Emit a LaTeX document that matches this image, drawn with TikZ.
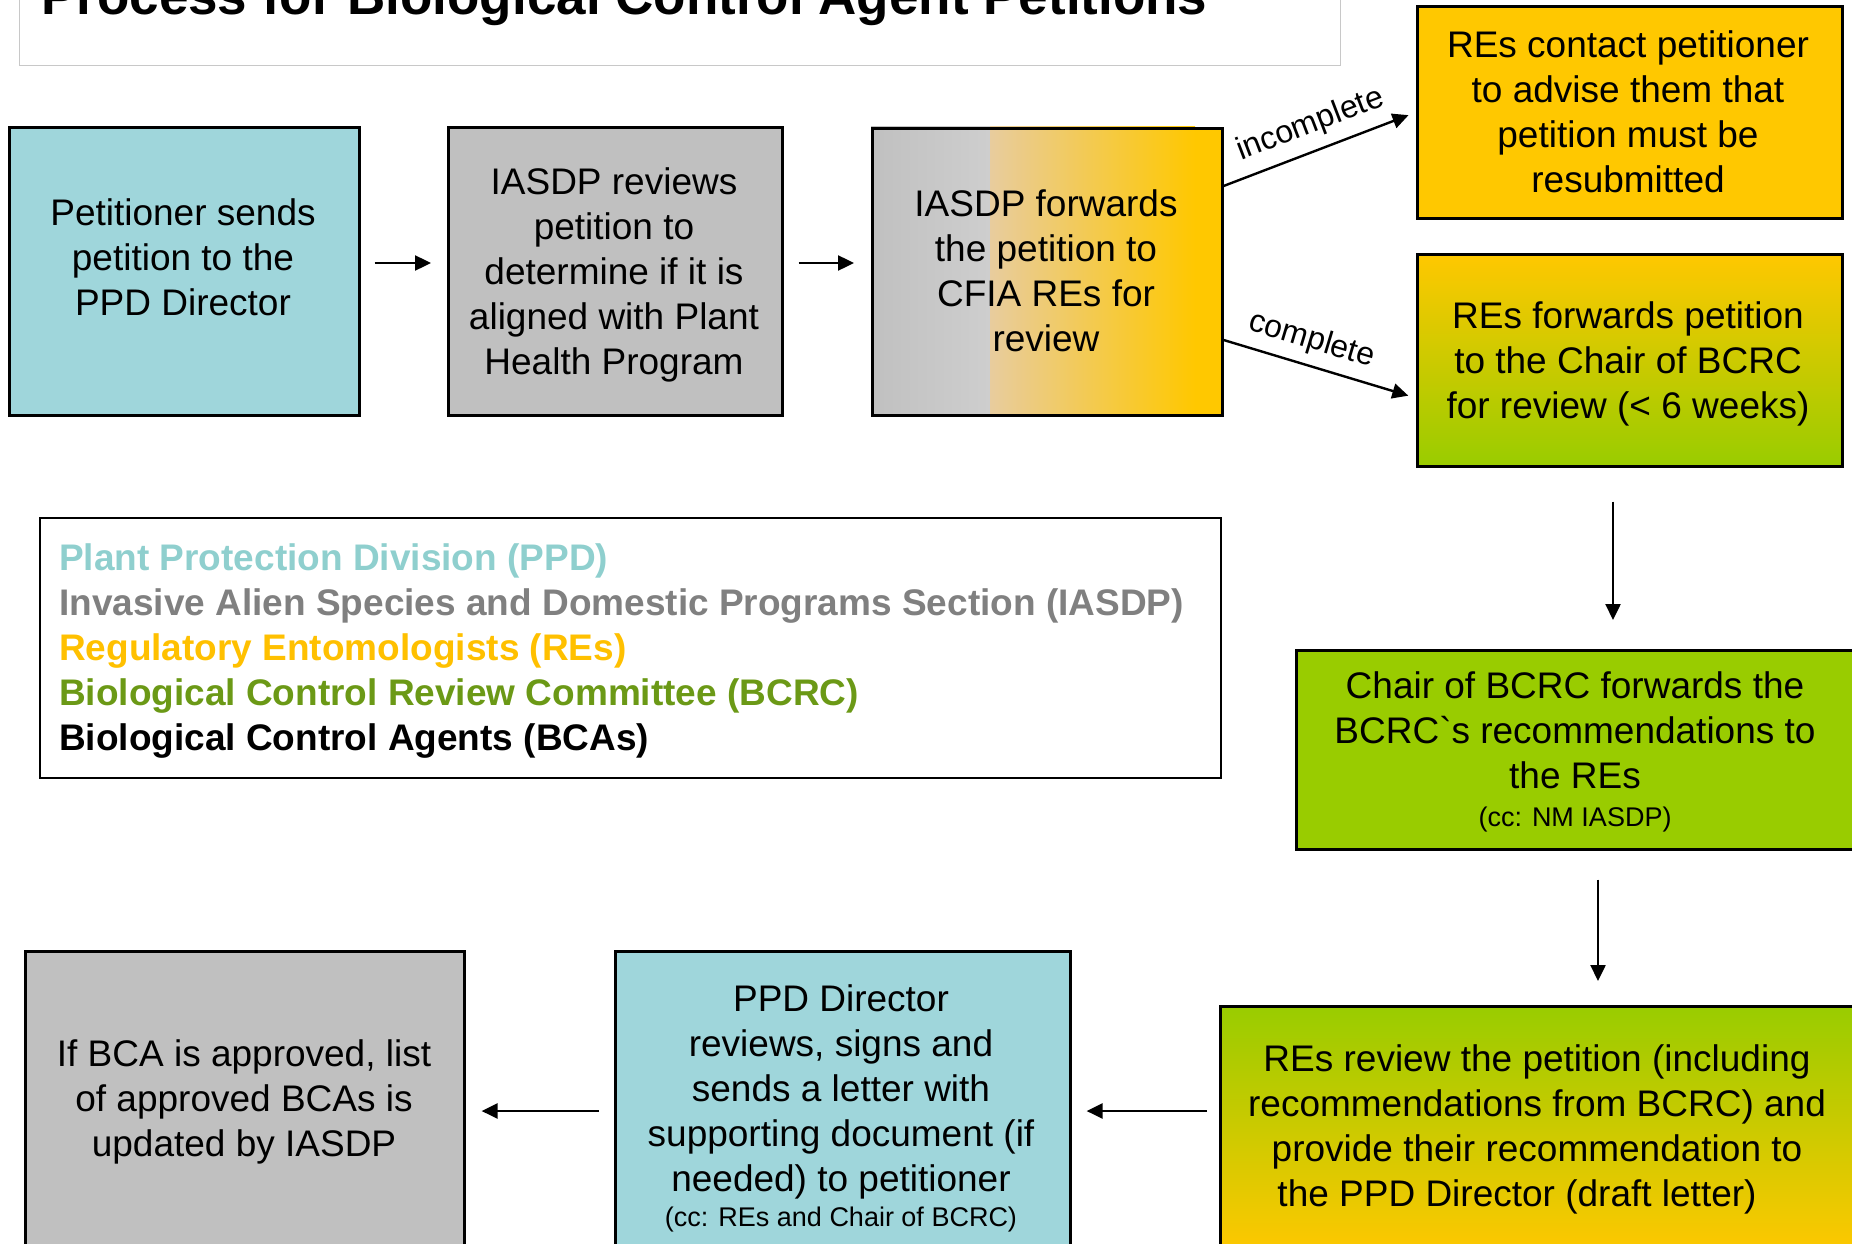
\documentclass[tikz,border=0pt]{standalone}
\usepackage{fontspec}
\setmainfont{Liberation Sans}
\usetikzlibrary{arrows.meta}
\definecolor{teal1}{RGB}{159,214,219}
\definecolor{gray1}{RGB}{192,192,192}
\definecolor{gray2}{RGB}{206,206,206}
\definecolor{gold1}{RGB}{255,200,0}
\definecolor{green1}{RGB}{153,204,0}
\definecolor{tan1}{RGB}{232,204,158}
\definecolor{legteal}{RGB}{143,207,206}
\definecolor{leggray}{RGB}{128,128,128}
\definecolor{leggold}{RGB}{255,192,0}
\definecolor{leggreen}{RGB}{107,153,22}
\definecolor{titlegray}{RGB}{200,200,200}
\begin{document}
\begin{tikzpicture}[x=1pt,y=-1pt,
  boxstyle/.style={draw=black, line width=2.6pt, inner sep=0pt, anchor=north west},
  txt/.style={align=center, inner sep=0pt, font=\fontsize{37}{45}\selectfont},
  arr/.style={-{Triangle[length=16pt,width=15pt]}, line width=2.4pt},
  lbl/.style={font=\fontsize{32}{38}\selectfont, sloped, inner sep=2pt}
]
\useasboundingbox (0,0) rectangle (1852,1244);
\clip (0,0) rectangle (1852,1244);

% title
\node[draw=titlegray, line width=1.2pt, anchor=north west, minimum width=1321pt, minimum height=125pt, inner sep=0pt] (titlebox) at (19,-60) {};
\node[anchor=base west, inner sep=0pt, font=\bfseries\fontsize{53}{60}\selectfont] (title) at (41,15) {Process for Biological Control Agent Petitions};

% boxes
\node[boxstyle, fill=teal1, minimum width=350pt, minimum height=288pt] (b1) at (8,126) {};
\node[boxstyle, fill=gray1, minimum width=334pt, minimum height=288pt] (b2) at (447,126) {};
\shade[left color=gray1, right color=gray2] (871,127) rectangle (990,414);
\shade[left color=tan1, right color=gold1] (990,127) rectangle (1195,414);
\fill[gold1] (1195,127) rectangle (1221,414);
\node[boxstyle, minimum width=350pt, minimum height=287pt] (b3) at (871,127) {};
\node[boxstyle, fill=gold1, minimum width=425pt, minimum height=212pt] (b4) at (1416,5) {};
\node[boxstyle, top color=gold1, bottom color=green1, minimum width=425pt, minimum height=212pt] (b5) at (1416,253) {};
\node[boxstyle, fill=green1, minimum width=561pt, minimum height=199pt] (b6) at (1295,649) {};
\node[boxstyle, top color=green1, bottom color=gold1, minimum width=637pt, minimum height=247pt] (b7) at (1219,1005) {};
\node[boxstyle, fill=teal1, minimum width=455pt, minimum height=302pt] (b8) at (614,950) {};
\node[boxstyle, fill=gray1, minimum width=439pt, minimum height=302pt] (b9) at (24,950) {};
\node[draw=black, line width=2.2pt, anchor=north west, minimum width=1181pt, minimum height=260pt, inner sep=0pt] (legend) at (39,517) {};

% texts
\node[txt] (t1) at (183,257) {Petitioner sends\\petition to the\\PPD Director};
\node[txt] (t2) at (614,275) {IASDP reviews\\petition to\\determine if it is\\aligned with Plant\\Health Program};
\node[txt] (t3) at (1046,271) {IASDP forwards\\the petition to\\CFIA REs for\\review};
\node[txt] (t4) at (1628,112) {REs contact petitioner\\to advise them that\\petition must be\\resubmitted};
\node[txt] (t5) at (1628,364) {REs forwards petition\\to the Chair of BCRC\\for review (< 6 weeks)};
\node[txt] (t6) at (1575,752) {Chair of BCRC forwards the\\BCRC\textasciigrave s recommendations to\\the REs\\[-7pt]{\fontsize{27}{31}\selectfont (cc: NM IASDP)}};
\node[txt] (t7) at (1537,1129) {REs review the petition (including\\recommendations from BCRC) and\\provide their recommendation to\\the PPD Director (draft letter)\hspace*{40pt}};
\node[txt] (t8) at (841,1108) {PPD Director\\reviews, signs and\\sends a letter with\\supporting document (if\\needed) to petitioner\\[-10pt]{\fontsize{27}{31}\selectfont (cc: REs and Chair of BCRC)}};
\node[txt] (t9) at (244,1102) {If BCA is approved, list\\of approved BCAs is\\updated by IASDP};

\node[anchor=west, align=left, inner sep=0pt, font=\bfseries\fontsize{37}{45}\selectfont] (legtext) at (59,651) {\textcolor{legteal}{Plant Protection Division (PPD)}\\\textcolor{leggray}{Invasive Alien Species and Domestic Programs Section (IASDP)}\\\textcolor{leggold}{Regulatory Entomologists (REs)}\\\textcolor{leggreen}{Biological Control Review Committee (BCRC)}\\Biological Control Agents (BCAs)};

% connectors
\coordinate (ya) at (0,263);
\coordinate (ci) at (0,186);
\coordinate (cc) at (0,340);
\coordinate (ce) at (0,398);
\coordinate (x56) at (1613,0);
\coordinate (x67) at (1598,0);
\coordinate (yb) at (0,1111);

\draw[arr, shorten <=14pt, shorten >=16pt] (b1.east |- ya) -- (b2.west |- ya);
\draw[arr, shorten <=15pt, shorten >=17pt] (b2.east |- ya) -- (b3.west |- ya);
\draw[arr, shorten >=8pt] (b3.east |- ci) -- node[lbl, above=8pt] (linc) {incomplete} (b4.west);
\draw[arr, shorten >=8pt] (b3.east |- cc) -- node[lbl, above=7pt, pos=0.42] (lcom) {complete} (b5.west |- ce);
\draw[arr, shorten <=34pt, shorten >=29pt] (b5.south -| x56) -- (b6.north -| x56);
\draw[arr, shorten <=29pt, shorten >=24pt] (b6.south -| x67) -- (b7.north -| x67);
\draw[arr, shorten <=12pt, shorten >=15pt] (b7.west |- yb) -- (b8.east |- yb);
\draw[arr, shorten <=15pt, shorten >=16pt] (b8.west |- yb) -- (b9.east |- yb);
\end{tikzpicture}
\end{document}
